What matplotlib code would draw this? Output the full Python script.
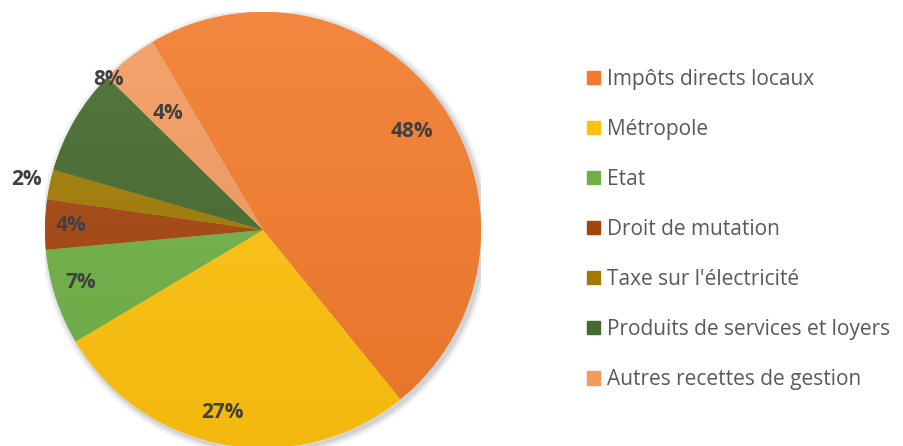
import matplotlib.pyplot as plt
import matplotlib.colors as mcolors
from matplotlib.patches import Rectangle, Circle
import numpy as np

plt.rcParams['font.family'] = ['Open Sans', 'DejaVu Sans']

# Donnees
categories = ["Impôts directs locaux", "Métropole", "Etat", "Droit de mutation",
              "Taxe sur l'électricité", "Produits de services et loyers",
              "Autres recettes de gestion"]
valeurs = [47.6, 27.3, 7.1, 3.7, 2.2, 7.9, 4.2]

couleurs = ["#F27A2A", "#FFC20E", "#70B046", "#A4450E", "#A07A02", "#44692C", "#F39A5E"]
# position des etiquettes : distance au centre (rayon = 1) et decalage d'angle
label_r = [0.82, 0.86, 0.87, 0.88, 1.11, 0.99, 0.69]
label_da = [-1.4, -2.5, -2, 0, 0, -14, 1.4]

fig = plt.figure(figsize=(9.04, 4.46), dpi=100)
ax = fig.add_axes([45 / 904, -2 / 446, 436 / 904, 436 / 446])
ax.set_xlim(-1, 1)
ax.set_ylim(-1, 1)
ax.set_aspect("equal")
ax.axis("off")

# ombre legere autour du camembert
for k, a in zip([1.03, 1.02, 1.01], [0.04, 0.06, 0.08]):
    ax.add_patch(Circle((0.01, -0.01), k, color="black", alpha=a, lw=0, zorder=0))

wedges, _ = ax.pie(valeurs, colors=couleurs, startangle=120.4, counterclock=False,
                   radius=1, wedgeprops=dict(linewidth=0.6, edgecolor=(1, 1, 1, 0.3)))

# degrade vertical dans chaque part (plus clair en haut)
t = np.linspace(0, 1, 256)[:, None]
for w, c in zip(wedges, couleurs):
    rgb = np.array(mcolors.to_rgb(c))
    haut = rgb + (1 - rgb) * 0.1
    bas = rgb * 0.95
    img = (haut[None, :] * (1 - t) + bas[None, :] * t)[:, None, :]
    im = ax.imshow(img, extent=[-1, 1, -1, 1], aspect="auto", zorder=2)
    im.set_clip_path(w)

# etiquettes de pourcentage
angle = 120.4
for v, r, da in zip(valeurs, label_r, label_da):
    mid = np.deg2rad(angle - v * 3.6 / 2 + da)
    angle -= v * 3.6
    ax.text(r * np.cos(mid), r * np.sin(mid), f"{round(v):.0f}%", ha="center", va="center",
            fontsize=15, fontweight="bold", color="#404040", zorder=5)

ax.set_xlim(-1, 1)
ax.set_ylim(-1, 1)

# legende
handles = [Rectangle((0, 0), 1, 1, color=c) for c in couleurs]
leg = fig.legend(handles, categories, loc="upper left", bbox_to_anchor=(568 / 904, 1 - 50 / 446),
                 frameon=False, fontsize=15, labelspacing=1.395, handlelength=0.62,
                 handleheight=0.62, handletextpad=0.35, labelcolor="#595959")

fig.savefig("out.png", dpi=100)
